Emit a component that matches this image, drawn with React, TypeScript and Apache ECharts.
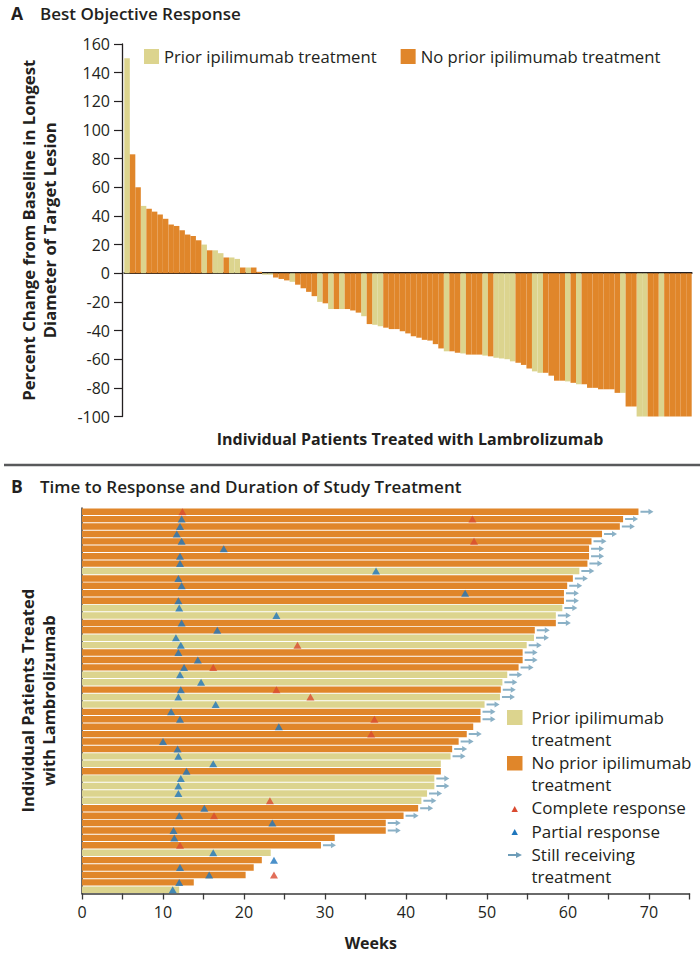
import React, { useEffect, useRef } from "react";
import * as echarts from "echarts";

const FONT = "'Open Sans', 'DejaVu Sans', sans-serif";
const TEXT = "#231f20";
const YELLOW = "#DCD48E";
const ORANGE = "#E0862A";
const RED = "#DA4A30";
const BLUE = "#1E76BD";
const ARROW = "#6E9DB8";

const PRIOR = "Prior ipilimumab treatment";
const NO_PRIOR = "No prior ipilimumab treatment";

// Panel A: best percent change from baseline, per patient (waterfall order)
const bestChange = [
  150, 83, 60, 47, 45, 43, 41, 38, 34, 33,
  30, 27, 26, 23, 20, 16, 16, 14, 11, 11,
  10, 4, 4, 4, 1, -1, -1, -3, -4, -5,
  -6, -8, -10.5, -13, -16, -20, -21, -25, -25, -25,
  -25, -26, -27.5, -30, -35.5, -36, -37, -38, -39, -39,
  -40.5, -42, -44, -45, -46.5, -47, -49.5, -52.5, -54.5, -54.5,
  -55.5, -56, -56.8, -56.8, -56.8, -57.5, -58, -59, -59.5, -60,
  -61.5, -62.5, -64, -66.5, -68.5, -69.5, -69.5, -71.5, -75, -75,
  -75.5, -76.5, -77.5, -77.5, -80, -80, -81, -81, -81, -83.5,
  -83.5, -93, -93, -100, -100, -100, -100, -100, -100, -100,
  -100, -100, -100,
];
// 1 = prior ipilimumab treatment, 0 = no prior treatment
const priorA = [
  1, 0, 0, 1, 0, 0, 0, 0, 0, 0,
  0, 0, 0, 0, 1, 0, 1, 1, 0, 1,
  1, 0, 1, 0, 0, 1, 1, 0, 0, 0,
  1, 0, 0, 0, 0, 1, 0, 1, 0, 1,
  0, 0, 0, 1, 0, 1, 1, 0, 0, 0,
  0, 0, 0, 0, 0, 0, 0, 0, 1, 0,
  0, 1, 0, 0, 0, 1, 0, 1, 1, 1,
  1, 0, 0, 0, 1, 1, 0, 0, 0, 0,
  1, 0, 1, 0, 0, 0, 0, 0, 0, 0,
  1, 0, 0, 1, 1, 0, 0, 1, 0, 0,
  0, 0, 0,
];
const yTicksA = { min: -100, max: 160, step: 20 };

// Panel B: duration of study treatment (weeks), per responding patient
const durationWeeks = [
  68.7, 66.8, 66.4, 64.2, 62.9, 62.6, 62.6, 62.4, 61.4, 60.6,
  59.9, 59.5, 59.5, 59.3, 58.5, 58.5, 55.9, 55.8, 54.9, 54.4,
  54.4, 53.9, 52.5, 51.9, 51.7, 51.6, 49.7, 49.2, 49.2, 48.3,
  47.5, 46.5, 45.7, 45.5, 44.3, 44.3, 43.5, 43.5, 42.6, 41.9,
  41.5, 39.7, 37.5, 37.5, 31.2, 29.5, 23.3, 22.2, 21.2, 20.2,
  13.8, 12.0,
];
const priorB = [
  0, 0, 0, 0, 0, 0, 0, 0, 1, 0,
  0, 0, 0, 1, 1, 0, 0, 1, 1, 0,
  0, 0, 1, 1, 0, 1, 1, 0, 0, 0,
  0, 0, 0, 1, 1, 0, 1, 1, 1, 1,
  0, 0, 0, 0, 0, 0, 1, 0, 0, 0,
  0, 1,
];
// 1 = still receiving treatment
const stillOnTreatment = [
  1, 1, 1, 1, 1, 1, 1, 1, 1, 1,
  1, 1, 1, 1, 1, 1, 1, 1, 1, 1,
  1, 1, 1, 1, 1, 1, 1, 1, 1, 0,
  1, 1, 1, 1, 0, 0, 1, 1, 1, 1,
  1, 1, 1, 1, 0, 1, 0, 0, 0, 0,
  0, 0,
];
// Partial responses: patient row (1 = top) and week
const partialRows = [
  2, 3, 4, 5, 6, 7, 8, 9, 10, 11, 12, 13, 14, 15, 16, 17, 18, 19, 20, 21,
  22, 23, 24, 25, 26, 27, 28, 29, 30, 32, 33, 34, 35, 36, 37, 38, 39, 41, 42, 43,
  44, 45, 47, 48, 49, 50, 51, 52,
];
const partialWeeks = [
  12.3, 12.1, 11.7, 12.3, 17.5, 12.1, 12.1, 36.3, 11.9, 12.3, 47.3, 11.9, 12.0, 24.0, 12.3, 16.7, 11.6, 12.2, 11.9, 14.3,
  12.6, 12.1, 14.7, 12.2, 11.9, 16.5, 11.0, 12.1, 24.3, 10.0, 11.8, 11.9, 16.2, 12.9, 12.2, 11.9, 11.9, 15.1, 12.0, 23.5,
  11.3, 11.4, 16.2, 23.7, 12.1, 15.7, 12.0, 11.2,
];
// Complete responses: patient row and week
const completeRows = [1, 2, 5, 19, 22, 25, 26, 29, 31, 40, 42, 46, 50];
const completeWeeks = [12.4, 48.2, 48.4, 26.6, 16.2, 24.0, 28.2, 36.1, 35.7, 23.2, 16.3, 12.1, 23.7];

const patientsA = bestChange.map((_, i) => `Patient ${i + 1}`);
const patientsB = durationWeeks.map((_, i) => `Patient ${i + 1}`);

const ARROW_PATH = "path://M0,2 L8,2 L8,0 L13,3 L8,6 L8,4 L0,4 Z";

const axisNameStyle = { fontFamily: FONT, fontSize: 16, fontWeight: "bold", color: TEXT, lineHeight: 21 };
const tickLabelStyle = { fontFamily: FONT, fontSize: 16, color: TEXT };
const legendText = { fontFamily: FONT, fontSize: 17, fill: TEXT, lineHeight: 22, verticalAlign: "top" };

const titleRich = {
  l: { fontFamily: FONT, fontSize: 17.5, fontWeight: "bold", color: TEXT, width: 29 },
  t: { fontFamily: FONT, fontSize: 17, fontWeight: 600, color: TEXT },
};

function buildOption() {
  return {
    animation: false,
    textStyle: { fontFamily: FONT },
    title: [
      {
        text: "{l|A}{t|Best Objective Response}",
        left: 11,
        top: 4,
        padding: 0,
        textStyle: { rich: titleRich },
      },
      {
        text: "{l|B}{t|Time to Response and Duration of Study Treatment}",
        left: 11,
        top: 477,
        padding: 0,
        textStyle: { rich: titleRich },
      },
    ],
    legend: [
      {
        data: [
          { name: PRIOR, icon: "rect" },
          { name: NO_PRIOR, icon: "rect" },
        ],
        left: 144,
        top: 48,
        padding: 0,
        itemWidth: 15,
        itemHeight: 15,
        itemGap: 24,
        selectedMode: false,
        textStyle: { fontFamily: FONT, fontSize: 16.7, color: TEXT },
      },
    ],
    grid: [
      { left: 124.3, top: 44, width: 567.4, height: 372.5 },
      { left: 82, top: 508, width: 607.5, height: 385.5 },
    ],
    xAxis: [
      {
        type: "category",
        gridIndex: 0,
        data: patientsA,
        axisLine: { lineStyle: { color: TEXT, width: 1.8 } },
        axisTick: { show: false },
        axisLabel: { show: false },
        splitLine: { show: false },
        name: "Individual Patients Treated with Lambrolizumab",
        nameLocation: "middle",
        nameGap: 12,
        nameTextStyle: { ...axisNameStyle, padding: [0, 0, 0, 4] },
      },
      {
        type: "value",
        gridIndex: 1,
        min: 0,
        max: 75,
        interval: 5,
        axisLine: { show: true, lineStyle: { color: "#3a3a3a", width: 1.5 } },
        axisTick: { show: true, length: 6, lineStyle: { color: "#3a3a3a", width: 1.3 } },
        axisLabel: {
          ...tickLabelStyle,
          margin: 10,
          formatter: (v: number) => (v % 10 === 0 ? String(v) : ""),
        },
        splitLine: { show: false },
        name: "Weeks",
        nameLocation: "middle",
        nameGap: 39,
        nameTextStyle: { ...axisNameStyle, padding: [0, 30, 0, 0] },
      },
    ],
    yAxis: [
      {
        type: "value",
        gridIndex: 0,
        offset: 2.3,
        min: yTicksA.min,
        max: yTicksA.max,
        interval: yTicksA.step,
        axisLine: { show: true, lineStyle: { color: TEXT, width: 1.3 } },
        axisTick: { show: true, length: 8, lineStyle: { color: TEXT, width: 1.2 } },
        axisLabel: { ...tickLabelStyle, margin: 12 },
        splitLine: { show: false },
        name: "Percent Change from Baseline in Longest\nDiameter of Target Lesion",
        nameLocation: "middle",
        nameGap: 62,
        nameTextStyle: { ...axisNameStyle, fontSize: 16.7 },
      },
      {
        type: "category",
        gridIndex: 1,
        inverse: true,
        data: patientsB,
        axisLine: { show: true, lineStyle: { color: "#3a3a3a", width: 1.5 } },
        axisTick: { show: false },
        axisLabel: { show: false },
        splitLine: { show: false },
        name: "Individual Patients Treated\nwith Lambrolizumab",
        nameLocation: "middle",
        nameGap: 23,
        nameTextStyle: { ...axisNameStyle, fontSize: 16.5 },
      },
    ],
    series: [
      {
        type: "bar",
        name: PRIOR,
        xAxisIndex: 0,
        yAxisIndex: 0,
        data: bestChange.map((v, i) => (priorA[i] ? v : "-")),
        itemStyle: { color: YELLOW },
        barGap: "-100%",
        barCategoryGap: "0%",
      },
      {
        type: "bar",
        name: NO_PRIOR,
        xAxisIndex: 0,
        yAxisIndex: 0,
        data: bestChange.map((v, i) => (priorA[i] ? "-" : v)),
        itemStyle: { color: ORANGE },
        barGap: "-100%",
        barCategoryGap: "0%",
      },
      {
        type: "bar",
        name: PRIOR,
        xAxisIndex: 1,
        yAxisIndex: 1,
        data: durationWeeks.map((v, i) => (priorB[i] ? v : "-")),
        itemStyle: { color: YELLOW },
        barGap: "-100%",
        barCategoryGap: "13%",
      },
      {
        type: "bar",
        name: NO_PRIOR,
        xAxisIndex: 1,
        yAxisIndex: 1,
        data: durationWeeks.map((v, i) => (priorB[i] ? "-" : v)),
        itemStyle: { color: ORANGE },
        barGap: "-100%",
        barCategoryGap: "13%",
      },
      {
        type: "scatter",
        name: "Partial response",
        xAxisIndex: 1,
        yAxisIndex: 1,
        symbol: "triangle",
        symbolSize: [8, 7],
        itemStyle: { color: BLUE },
        data: partialRows.map((r, i) => [partialWeeks[i], r - 1]),
        z: 5,
      },
      {
        type: "scatter",
        name: "Complete response",
        xAxisIndex: 1,
        yAxisIndex: 1,
        symbol: "triangle",
        symbolSize: [8, 7],
        itemStyle: { color: RED },
        data: completeRows.map((r, i) => [completeWeeks[i], r - 1]),
        z: 5,
      },
      {
        type: "scatter",
        name: "Still receiving treatment",
        xAxisIndex: 1,
        yAxisIndex: 1,
        symbol: ARROW_PATH,
        symbolSize: [13, 6],
        symbolOffset: [8.5, 0],
        itemStyle: { color: ARROW },
        data: durationWeeks
          .map((d, i) => (stillOnTreatment[i] ? [d, i] : null))
          .filter((p) => p !== null),
        z: 5,
      },
    ],
    graphic: [
      {
        type: "line",
        shape: { x1: 4, y1: 465, x2: 700, y2: 465 },
        style: { stroke: "#58595b", lineWidth: 2.5 },
      },
      // Panel B legend
      { type: "rect", shape: { x: 507, y: 710, width: 15.5, height: 15 }, style: { fill: YELLOW } },
      {
        type: "text",
        x: 531.5,
        y: 706,
        style: { ...legendText, text: "Prior ipilimumab\ntreatment" },
      },
      { type: "rect", shape: { x: 507, y: 756, width: 15.5, height: 14.5 }, style: { fill: ORANGE } },
      {
        type: "text",
        x: 531.5,
        y: 751.5,
        style: { ...legendText, text: "No prior ipilimumab\ntreatment" },
      },
      {
        type: "polygon",
        shape: { points: [[511.5, 812], [517.9, 812], [514.7, 806]] },
        style: { fill: RED },
      },
      {
        type: "text",
        x: 531.5,
        y: 796,
        style: { ...legendText, text: "Complete response" },
      },
      {
        type: "polygon",
        shape: { points: [[511.5, 835], [517.9, 835], [514.7, 829]] },
        style: { fill: BLUE },
      },
      {
        type: "text",
        x: 531.5,
        y: 820,
        style: { ...legendText, text: "Partial response" },
      },
      {
        type: "polygon",
        shape: { points: [[508, 854], [516, 854], [516, 852], [522, 855], [516, 858], [516, 856], [508, 856]] },
        style: { fill: ARROW },
      },
      {
        type: "text",
        x: 531.5,
        y: 843.5,
        style: { ...legendText, text: "Still receiving\ntreatment" },
      },
    ],
  };
}

export default function App() {
  const ref = useRef<HTMLDivElement>(null);
  useEffect(() => {
    if (!ref.current) return;
    const chart = echarts.init(ref.current, undefined, { renderer: "svg" });
    chart.setOption(buildOption() as any);
    return () => chart.dispose();
  }, []);
  return (
    <div
      ref={ref}
      style={{ position: "absolute", left: 0, top: 0, width: 700, height: 956, background: "#fff" }}
    />
  );
}
